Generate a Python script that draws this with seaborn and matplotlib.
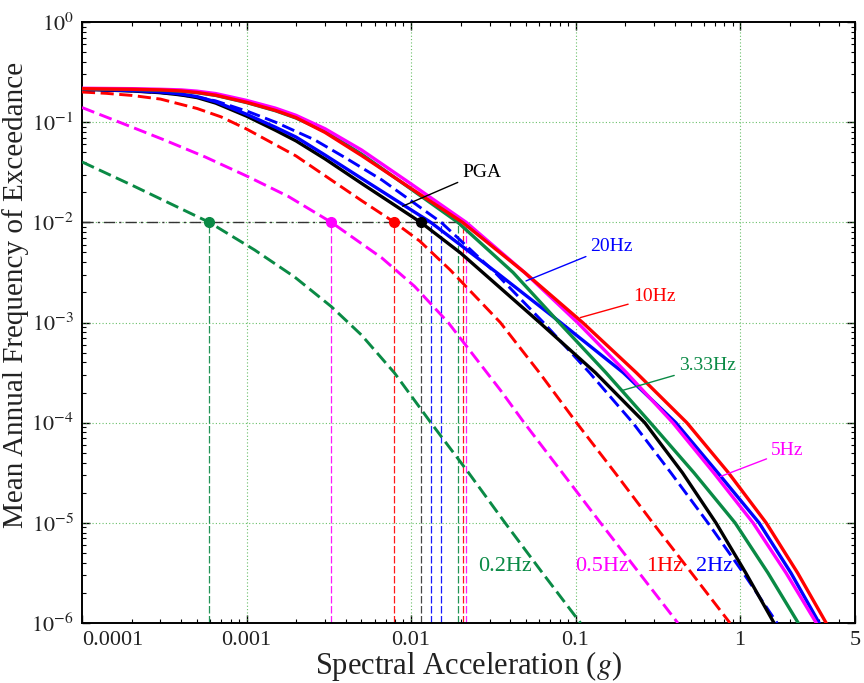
import matplotlib.pyplot as plt
import numpy as np
import seaborn as sns
from matplotlib.ticker import FixedLocator, LogLocator, NullFormatter

# hazard curves: spectral acceleration (g) vs annual frequency
pga_x = [1e-4, 2e-4, 3e-4, 4e-4, 5e-4, 6.5e-4, 1e-3, 1.5e-3, 2e-3, 3e-3, 5e-3, 0.01146,
         0.02, 0.0605, 0.132, 0.2636, 0.447, 0.714, 1.084, 1.61]
pga_y = [0.213, 0.205, 0.197, 0.187, 0.176, 0.155, 0.115, 0.083, 0.065, 0.043, 0.0245, 1e-2,
         4.95e-3, 1e-3, 3.16e-4, 1e-4, 3.16e-5, 1e-5, 3.16e-6, 1e-6]

hz20_x = [1e-4, 2e-4, 3e-4, 4e-4, 5e-4, 6.5e-4, 1e-3, 1.5e-3, 2e-3, 3e-3, 5e-3, 0.01318,
          0.0331, 0.0811, 0.195, 0.407, 0.733, 1.306, 2.04, 3.03]
hz20_y = [0.214, 0.207, 0.2, 0.191, 0.18, 0.16, 0.12, 0.089, 0.071, 0.047, 0.0275, 1e-2,
          3.16e-3, 1e-3, 3.16e-4, 1e-4, 3.16e-5, 1e-5, 3.16e-6, 1e-6]

hz10_x = [1e-4, 2e-4, 3e-4, 4e-4, 5e-4, 6.5e-4, 1e-3, 1.5e-3, 2e-3, 3e-3, 5e-3, 0.01,
          0.02056, 0.049, 0.1104, 0.234, 0.475, 0.851, 1.442, 2.24, 3.34]
hz10_y = [0.216, 0.213, 0.21, 0.205, 0.198, 0.186, 0.158, 0.131, 0.111, 0.079, 0.0465, 0.0218,
          1e-2, 3.16e-3, 1e-3, 3.16e-4, 1e-4, 3.16e-5, 1e-5, 3.16e-6, 1e-6]

hz5_x = [1e-4, 2e-4, 3e-4, 4e-4, 5e-4, 6.5e-4, 1e-3, 1.5e-3, 2e-3, 3e-3, 5e-3, 0.01,
         0.02165, 0.049, 0.1028, 0.204, 0.39, 0.692, 1.2, 1.905, 2.91]
hz5_y = [0.218, 0.216, 0.213, 0.21, 0.204, 0.193, 0.165, 0.138, 0.117, 0.086, 0.0528, 0.0242,
         1e-2, 3.16e-3, 1e-3, 3.16e-4, 1e-4, 3.16e-5, 1e-5, 3.16e-6, 1e-6]

hz333_x = [1e-4, 2e-4, 3e-4, 4e-4, 5e-4, 6.5e-4, 1e-3, 1.5e-3, 2e-3, 3e-3, 5e-3, 0.01,
           0.01927, 0.0417, 0.0794, 0.153, 0.285, 0.525, 0.933, 1.479, 2.26]
hz333_y = [0.215, 0.212, 0.209, 0.204, 0.197, 0.185, 0.157, 0.130, 0.110, 0.081, 0.048, 0.0215,
           1e-2, 3.16e-3, 1e-3, 3.16e-4, 1e-4, 3.16e-5, 1e-5, 3.16e-6, 1e-6]

hz2_x = [1e-4, 2e-4, 3e-4, 4.02e-4, 5e-4, 6.5e-4, 1.03e-3, 1.5e-3, 2.6e-3, 4e-3, 6.65e-3,
         0.01524, 0.0324, 0.0638, 0.1216, 0.2228, 0.38, 0.638, 1.047, 1.68]
hz2_y = [0.212, 0.205, 0.197, 0.187, 0.178, 0.163, 0.127, 0.1, 0.0665, 0.044, 0.0265,
         1e-2, 3.16e-3, 1e-3, 3.16e-4, 1e-4, 3.16e-5, 1e-5, 3.16e-6, 1e-6]

hz1_x = [1e-4, 1.4e-4, 2e-4, 3e-4, 5e-4, 7e-4, 1e-3, 2e-3, 5e-3, 7.93e-3, 0.0113, 0.0173,
         0.0349, 0.0603, 0.1014, 0.174, 0.295, 0.507, 0.869]
hz1_y = [0.200, 0.194, 0.185, 0.17, 0.137, 0.113, 0.0855, 0.046, 0.0165, 1e-2, 6.5e-3, 3.35e-3,
         1e-3, 3.16e-4, 1e-4, 3.16e-5, 1e-5, 3.16e-6, 1e-6]

hz05_x = [1e-4, 2e-4, 3.16e-4, 5.6e-4, 1.03e-3, 1.8e-3, 3.28e-3, 6.65e-3, 0.0105, 0.01683,
          0.0349, 0.0487, 0.1419, 0.419]
hz05_y = [0.140, 0.0896, 0.0665, 0.045, 0.0284, 0.0181, 1e-2, 4.41e-3, 2.3e-3, 1e-3,
          2.12e-4, 1e-4, 1e-5, 1e-6]

hz02_x = [1e-4, 2e-4, 5.94e-4, 1.12e-3, 1.96e-3, 3.28e-3, 5e-3, 7.93e-3, 0.0132, 0.0224,
          0.0373, 0.063, 0.1072]
hz02_y = [0.0401, 0.0236, 1e-2, 5.3e-3, 2.85e-3, 1.44e-3, 7.5e-4, 3.14e-4, 1e-4, 3.16e-5,
          1e-5, 3.16e-6, 1e-6]

target_rate = 1e-2

GREEN = "#0a8a45"
MAGENTA = "#ff00ff"
RED = "#ff0000"
BLUE = "#0000ff"

# (x, y, colour, dashed, marker at 1e-2)
curves = [
    (hz02_x, hz02_y, GREEN, True, True),
    (hz05_x, hz05_y, MAGENTA, True, True),
    (hz1_x, hz1_y, RED, True, True),
    (hz2_x, hz2_y, BLUE, True, False),
    (pga_x, pga_y, "black", False, True),
    (hz20_x, hz20_y, BLUE, False, False),
    (hz333_x, hz333_y, GREEN, False, False),
    (hz5_x, hz5_y, MAGENTA, False, False),
    (hz10_x, hz10_y, RED, False, False),
]

sns.set_theme(style="ticks")
plt.rcParams["font.family"] = ["Liberation Serif", "DejaVu Serif"]
plt.rcParams["mathtext.fontset"] = "stix"

fig = plt.figure(figsize=(8.64, 6.83), dpi=100)
ax = fig.add_axes([0.0949, 0.0878, 0.8947, 0.880])
ax.set_xscale("log")
ax.set_yscale("log")


def crossing(xs, ys, level):
    lx = np.log10(xs)[::-1]
    ly = np.log10(ys)[::-1]
    return 10 ** np.interp(np.log10(level), ly, lx)


# horizontal reference line at the target rate
cross = [crossing(c[0], c[1], target_rate) for c in curves]
ax.plot([1e-4, max(cross)], [target_rate, target_rate], color="#333333",
        lw=1.0, linestyle=(0, (8, 3, 1.5, 3)), zorder=2)

# vertical drop lines
for (xs, ys, col, dashed, dot), xc in zip(curves, cross):
    vcol = "#333333" if col == "black" else col
    ax.plot([xc, xc], [1e-6, target_rate], color=vcol, lw=0.9,
            linestyle=(0, (6, 2)), zorder=2, alpha=0.9)

# the curves
for xs, ys, col, dashed, dot in curves:
    ls = (0, (4.5, 1.9)) if dashed else "-"
    lw = 2.1 if dashed else 2.4
    sns.lineplot(x=xs, y=ys, ax=ax, color=col, lw=lw, linestyle=ls,
                 estimator=None, sort=False, zorder=3)

for (xs, ys, col, dashed, dot), xc in zip(curves, cross):
    if dot:
        ax.plot(xc, target_rate, "o", color=col, ms=7, zorder=4)

ax.set_xlim(1e-4, 5)
ax.set_ylim(1e-6, 1)

# grid
for gx in [1e-3, 1e-2, 1e-1, 1]:
    ax.axvline(gx, color="#44b044", lw=0.8, linestyle=(0, (1, 2)), zorder=1, alpha=0.8)
for gy in [1e-5, 1e-4, 1e-3, 1e-2, 1e-1]:
    ax.axhline(gy, color="#44b044", lw=0.8, linestyle=(0, (1, 2)), zorder=1, alpha=0.8)

# ticks
xt = [1e-4, 1e-3, 1e-2, 1e-1, 1, 5]
xt_labels = ["0.0001", "0.001", "0.01", "0.1", "1", "5"]
ax.xaxis.set_major_locator(FixedLocator(xt))
ax.set_xticklabels(xt_labels)
ax.xaxis.set_minor_locator(LogLocator(base=10, subs=np.arange(2, 10), numticks=20))
ax.xaxis.set_minor_formatter(NullFormatter())
ax.get_xticklabels()[0].set_horizontalalignment("left")

yt = [10.0 ** e for e in range(-6, 1)]
ax.yaxis.set_major_locator(FixedLocator(yt))
ax.set_yticklabels([f"$10^{{{e}}}$" for e in range(-6, 1)])
ax.yaxis.set_minor_locator(LogLocator(base=10, subs=np.arange(2, 10), numticks=20))
ax.yaxis.set_minor_formatter(NullFormatter())

ax.tick_params(which="both", direction="in", top=True, right=True, colors="black",
               labelcolor="#222222")
ax.tick_params(which="major", length=6, width=1.0, labelsize=16, pad=6)
ax.tick_params(which="minor", length=3, width=0.8)
for sp in ax.spines.values():
    sp.set_linewidth(1.4)
    sp.set_color("black")

ax.set_xlabel("Spectral Acceleration ($\\mathit{g}$)", fontsize=22, color="#222222")
ax.set_ylabel("Mean Annual Frequency of Exceedance", fontsize=21, color="#222222")
ax.xaxis.set_label_coords(0.5, -0.043)
ax.yaxis.set_label_coords(-0.069, 0.546)

# curve annotations
notes = [
    ("PGA", (0.0089, 0.0145), (0.0205, 0.0318), "black"),
    ("20Hz", (0.05, 0.0026), (0.1233, 0.0058), BLUE),
    ("10Hz", (0.107, 0.00112), (0.2228, 0.0018), RED),
    ("3.33Hz", (0.1928, 2.1e-4), (0.4246, 3.69e-4), GREEN),
    ("5Hz", (0.76, 2.9e-5), (1.545, 5.23e-5), MAGENTA),
]
for txt, xy, xytext, col in notes:
    ax.annotate(txt, xy=xy, xytext=xytext, color=col, fontsize=14,
                ha="left", va="center",
                arrowprops=dict(arrowstyle="-", color=col, lw=1.0,
                                shrinkA=1, shrinkB=0),
                zorder=5)

bottom_labels = [
    ("0.2Hz", 0.0256, GREEN),
    ("0.5Hz", 0.1, MAGENTA),
    ("1Hz", 0.267, RED),
    ("2Hz", 0.54, BLUE),
]
for txt, xpos, col in bottom_labels:
    ax.text(xpos, 3.64e-6, txt, color=col, fontsize=16, ha="left", va="center", zorder=5)

fig.savefig("out.png", dpi=100)
